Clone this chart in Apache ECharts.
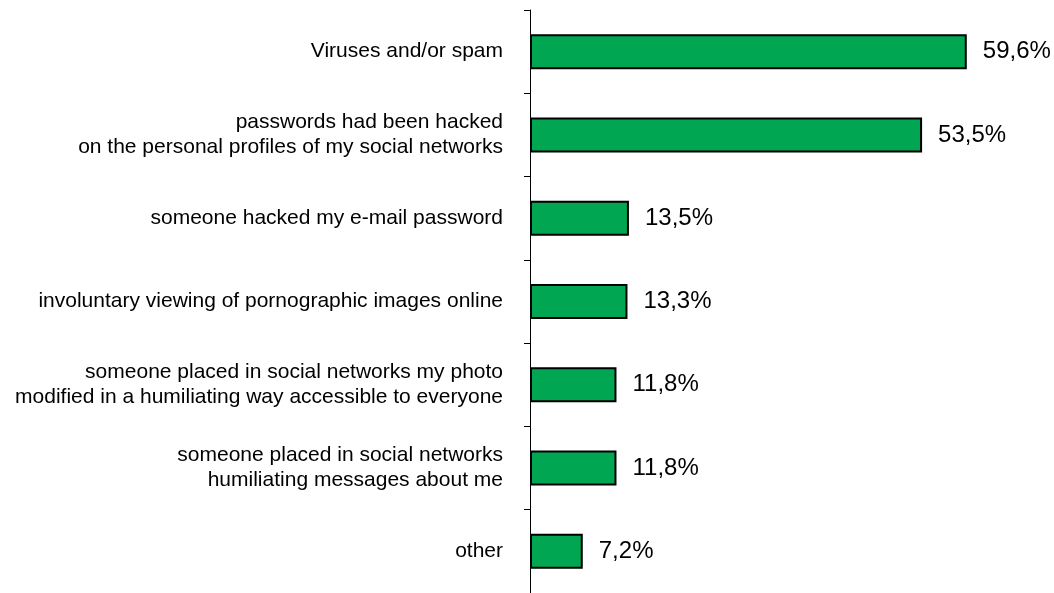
<!DOCTYPE html>
<html><head><meta charset="utf-8">
<script src="https://cdn.jsdelivr.net/npm/echarts@6/dist/echarts.min.js"></script>
<style>html,body{margin:0;padding:0;background:#fff}#c{width:1054px;height:593px}</style>
</head><body><div id="c"></div>
<script>
const categories = [
  "Viruses and/or spam",
  "passwords had been hacked\non the personal profiles of my social networks",
  "someone hacked my e-mail password",
  "involuntary viewing of pornographic images online",
  "someone placed in social networks my photo\nmodified in a humiliating way accessible to everyone",
  "someone placed in social networks\nhumiliating messages about me",
  "other"
];
const values = [59.6, 53.5, 13.5, 13.3, 11.8, 11.8, 7.2];
const valueLabels = ["59,6%", "53,5%", "13,5%", "13,3%", "11,8%", "11,8%", "7,2%"];

const chart = echarts.init(document.getElementById('c'), null, {renderer: 'canvas'});
chart.setOption({
  animation: false,
  backgroundColor: '#fff',
  grid: {left: 530, right: 11, top: 10, bottom: -4, containLabel: false},
  xAxis: {type: 'value', min: 0, max: 70, show: false},
  yAxis: {
    type: 'category', data: categories, inverse: true,
    axisLine: {show: true, lineStyle: {color: '#000', width: 1}},
    axisTick: {show: true, length: 6, lineStyle: {color: '#000'}},
    axisLabel: {margin: 27, color: '#000', fontFamily: 'Liberation Sans, Arial', fontSize: 21, lineHeight: 25, align: 'right'}
  },
  series: [{
    type: 'bar', data: values, barWidth: '42%',
    itemStyle: {color: '#00A651', borderColor: '#000', borderWidth: 2},
    label: {show: true, position: 'right', distance: 16, color: '#000', fontFamily: 'Liberation Sans, Arial', fontSize: 24,
      formatter: p => valueLabels[p.dataIndex]}
  }]
});
</script></body></html>
